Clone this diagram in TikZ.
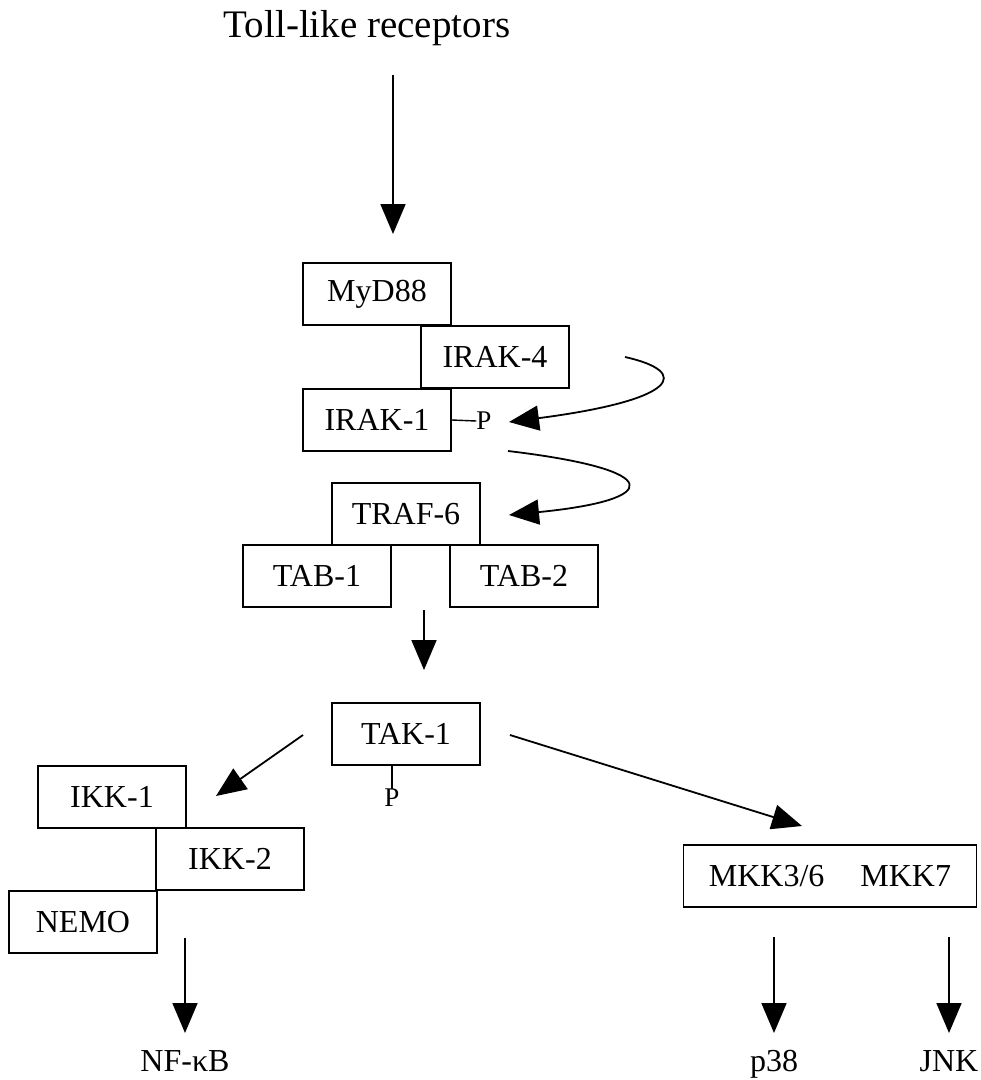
\documentclass[tikz,border=0pt]{standalone}
\usepackage{fontspec}
\setmainfont{Liberation Serif}
\usetikzlibrary{arrows.meta}

\tikzset{
    prot/.style={draw, line width=1.6pt, inner sep=0pt, minimum height=62pt,
        minimum width=148pt, font=\fontsize{32}{38}\selectfont},
    lbl/.style={inner sep=0pt, anchor=base, font=\fontsize{32}{38}\selectfont},
    phos/.style={inner sep=0pt, font=\fontsize{27}{32}\selectfont},
    arr/.style={line width=1.8pt, -{Triangle[length=30pt,width=25pt]}}
}

\begin{document}
\begin{tikzpicture}[x=1pt,y=-1pt]
    \useasboundingbox (0,0) rectangle (981,1080);
    % title
    \node[inner sep=0pt, font=\fontsize{39}{46}\selectfont] (tlr) at (367,28) {Toll-like receptors};
    \coordinate (tlrA) at (393,75);
    \coordinate (tlrB) at (393,234);
    \draw[arr] (tlrA) -- (tlrB);
    % receptor complex
    \node[prot] (myd) at (377,294) {MyD88};
    \node[prot] (irak4) at (495,357) {IRAK-4};
    \node[prot] (irak1) at (377,420) {IRAK-1};
    \node[phos] (p1) at (484,421) {P};
    \draw[line width=1.4pt] (irak1.east) -- (p1.west);
    \coordinate (c1A) at (625,357);
    \coordinate (c1B) at (509,422);
    \draw[arr] (c1A) .. controls (692,372) and (678,400) .. (c1B);
    \coordinate (c2A) at (508,451);
    \coordinate (c2B) at (509,515);
    \draw[arr] (c2A) .. controls (668,470) and (662,500) .. (c2B);
    % TRAF-6 / TAB
    \node[prot] (traf) at (406,514) {TRAF-6};
    \node[prot] (tab1) at (317,576) {TAB-1};
    \node[prot] (tab2) at (524,576) {TAB-2};
    \coordinate (tA) at (424,610);
    \coordinate (tB) at (424,670);
    \draw[arr] (tA) -- (tB);
    % TAK-1
    \node[prot] (tak) at (406,734) {TAK-1};
    \node[phos] (p2) at (392,798) {P};
    \draw[line width=1.4pt] (tak.south -| p2) -- (p2.north);
    \coordinate (kA) at (303,735);
    \coordinate (kB) at (216,796);
    \draw[arr] (kA) -- (kB);
    \coordinate (mA) at (510,735);
    \coordinate (mB) at (802,826);
    \draw[arr] (mA) -- (mB);
    % IKK complex
    \node[prot] (ikk1) at (112,797) {IKK-1};
    \node[prot] (ikk2) at (230,859) {IKK-2};
    \node[prot] (nemo) at (83,922) {NEMO};
    \node[lbl] (nfkb) at (185,1071) {NF-κB};
    \coordinate (nA) at (185,938);
    \draw[arr] (nA) -- (nfkb.north |- 0,1033);
    % MAP kinase kinases
    \node[prot, minimum width=293pt] (mkk) at (830,876) {MKK3/6\hspace{36pt}MKK7};
    \node[lbl] (p38) at (774,1071) {p38};
    \node[lbl] (jnk) at (949,1071) {JNK};
    \coordinate (pA) at (774,937);
    \coordinate (jA) at (949,937);
    \draw[arr] (pA) -- (p38.north |- 0,1033);
    \draw[arr] (jA) -- (jnk.north |- 0,1033);
\end{tikzpicture}
\end{document}
